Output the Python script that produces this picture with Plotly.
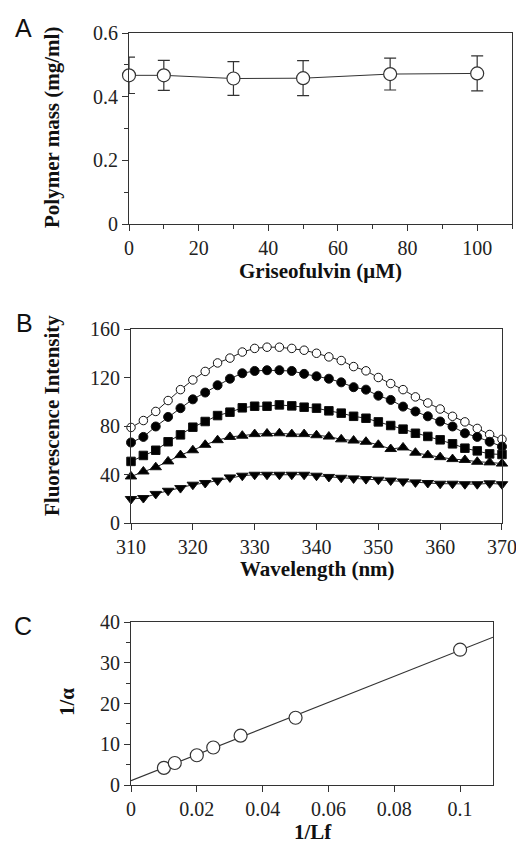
import plotly.graph_objects as go
import numpy as np

W, H = 516, 844

# ---------- Panel A data ----------
grise_conc = [0, 10, 30, 50, 75, 100]
polymer_mass = [0.467, 0.467, 0.457, 0.458, 0.471, 0.473]
polymer_err = [0.057, 0.047, 0.053, 0.055, 0.050, 0.055]

# ---------- Panel B data ----------
wavelength = list(range(310, 371, 2))
fl_open = [78.8, 84.5, 92, 101, 110, 118, 125, 132, 136, 141, 144, 145, 145, 144, 142.5, 140,
           137, 134, 129, 125.5, 120, 115, 110, 104, 99, 94, 88, 83.4, 78, 73, 69]
fl_filled = [66.4, 71, 79.6, 87.5, 94.7, 102, 107.6, 113.6, 119, 123.5, 125.4, 126, 126, 125.4, 123, 121,
             119, 116, 112, 110, 105, 101.5, 96, 92, 88, 83.7, 79.6, 74, 71, 67, 63]
fl_square = [50.8, 55.7, 60, 67, 72.7, 79, 83.7, 88.6, 91.4, 95, 96.3, 96.3, 97.4, 96.6, 95.5, 94.7,
             92.5, 90.6, 88, 86.4, 83.4, 80.4, 77.4, 74, 71.4, 68.6, 65.3, 61.7, 59.5, 57, 56.5]
fl_tri_up = [38.4, 42.5, 46, 50.8, 56, 60, 64.5, 68.3, 71, 72, 73.3, 73.8, 74, 73.3, 73.3, 72.4,
             71.3, 69, 68, 67, 64.5, 61, 62.3, 58, 56, 54.3, 52.7, 52, 50.5, 50, 49]
fl_tri_down = [19.8, 20.6, 24, 26.6, 28.8, 31.6, 33, 35, 37.6, 39, 39.8, 39.8, 39.8, 39.8, 39.8, 39,
               38, 37.3, 36.8, 36.2, 35.7, 35, 34.3, 33.5, 33, 32.4, 32.4, 32, 32, 32.7, 32]

# ---------- Panel C data ----------
inv_lf = [0.01, 0.0133, 0.02, 0.025, 0.0333, 0.05, 0.1]
inv_alpha = [4.2, 5.4, 7.3, 9.2, 12.1, 16.5, 33.2]
fit_x_range = [0, 0.11]

AX = "#333333"
SERIF = "Liberation Serif"
SANS = "Liberation Sans"
TICKF = dict(family=SERIF, size=20, color="#222")
TITLEF = dict(family=SERIF, size=21, color="#111")

def px(x):
    return x / W

def py(y):
    return 1 - y / H

fig = go.Figure()

# Panel A
fig.add_trace(go.Scatter(
    x=grise_conc, y=polymer_mass, mode="lines+markers",
    line=dict(color=AX, width=1),
    marker=dict(symbol="circle", size=13, color="white", line=dict(color=AX, width=1.2)),
    error_y=dict(type="data", array=polymer_err, visible=True, color=AX, thickness=1.2, width=6),
    xaxis="x", yaxis="y", cliponaxis=False, showlegend=False))

# Panel B
series_b = [
    (fl_open, "circle", "white", 8.5),
    (fl_filled, "circle", "black", 9),
    (fl_square, "square", "black", 8.5),
    (fl_tri_up, "triangle-up", "black", 10),
    (fl_tri_down, "triangle-down", "black", 10),
]
for vals, sym, fill, sz in series_b:
    fig.add_trace(go.Scatter(
        x=wavelength, y=vals, mode="lines+markers",
        line=dict(color="#222", width=1),
        marker=dict(symbol=sym, size=sz, color=fill, line=dict(color="#111", width=1)),
        xaxis="x2", yaxis="y2", cliponaxis=False, showlegend=False))

# Panel C
slope, intercept = np.polyfit(inv_lf, inv_alpha, 1)
fx = np.array(fit_x_range)
fig.add_trace(go.Scatter(
    x=fx, y=slope * fx + intercept, mode="lines",
    line=dict(color=AX, width=1.2), xaxis="x3", yaxis="y3", showlegend=False))
fig.add_trace(go.Scatter(
    x=inv_lf, y=inv_alpha, mode="markers",
    marker=dict(symbol="circle", size=13, color="white", line=dict(color=AX, width=1.2)),
    xaxis="x3", yaxis="y3", cliponaxis=False, showlegend=False))

def axis(domain, rng, dtick, anchor, minor_dtick=None, tick0=0):
    d = dict(domain=domain, range=rng, dtick=dtick, tick0=tick0, anchor=anchor,
             showline=True, linecolor=AX, linewidth=1.2, mirror=True,
             ticks="outside", ticklen=6, tickwidth=1.2, tickcolor=AX,
             showgrid=False, zeroline=False, tickfont=TICKF, fixedrange=True,
             automargin=False, ticklabeloverflow="allow")
    if minor_dtick:
        d["minor"] = dict(dtick=minor_dtick, ticks="outside", ticklen=4, tickcolor=AX, tickwidth=1.2, showgrid=False)
    return d

eps = 1e-6
layout = dict(
    width=W, height=H, margin=dict(l=0, r=0, t=0, b=0, pad=0),
    paper_bgcolor="white", plot_bgcolor="white",
    xaxis=axis([px(129), px(512)], [0, 110], 20, "y", 10),
    yaxis=axis([py(224), py(33)], [0, 0.6 + eps], 0.2, "x", 0.1),
    xaxis2=axis([px(131), px(502)], [310 - 0.001, 370 + 0.001], 10, "y2", tick0=310),
    yaxis2=axis([py(523), py(329)], [0, 160.001], 40, "x2"),
    xaxis3=axis([px(131), px(493)], [0, 0.11], 0.02, "y3"),
    yaxis3=axis([py(785), py(622)], [0, 40.0001], 10, "x3", 5),
)

annots = []
def ann(text, x, y, font, angle=0):
    annots.append(dict(text=text, x=px(x), y=py(y), xref="paper", yref="paper",
                       showarrow=False, font=font, textangle=angle,
                       xanchor="center", yanchor="middle"))

LET = dict(family=SANS, size=25, color="#111")
ann("A", 23, 28, LET)
ann("B", 24, 323, LET)
ann("C", 23, 626, LET)
ann("<b>Polymer mass (mg/ml)</b>", 52, 128, TITLEF, -90)
ann("<b>Griseofulvin (μM)</b>", 320, 271, TITLEF)
ann("<b>Fluorescence Intensity</b>", 52, 416, TITLEF, -90)
ann("<b>Wavelength (nm)</b>", 317, 569, TITLEF)
ann("<b>1/α</b>", 67, 702, TITLEF, -90)
ann("<b>1/Lf</b>", 313, 832, TITLEF)
layout["annotations"] = annots

fig.update_layout(**layout)
fig.write_html("out.html", config={"displayModeBar": False},
               post_script="document.body.style.margin='0';document.body.style.overflow='hidden';")
